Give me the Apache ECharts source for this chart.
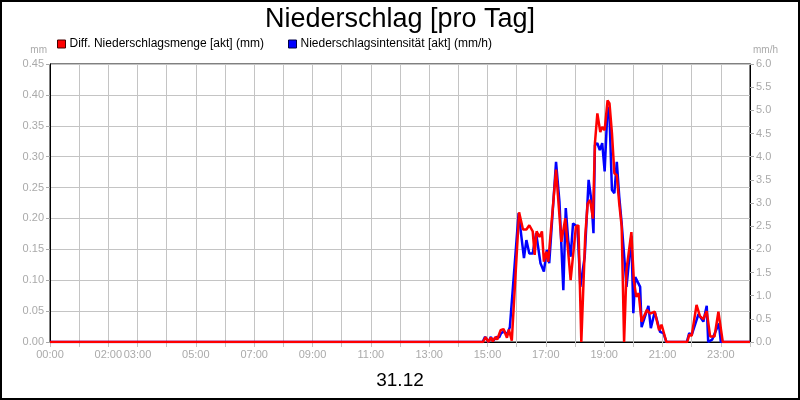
<!DOCTYPE html>
<html>
<head>
<meta charset="utf-8">
<script src="https://cdn.jsdelivr.net/npm/echarts@6/dist/echarts.min.js"></script>
<style>
html,body{margin:0;padding:0;background:#fff;}
#chart{width:800px;height:400px;}
</style>
</head>
<body>
<div id="chart"></div>
<script>
// x-axis tick labels shown
const xLabels = ['00:00','02:00','03:00','05:00','07:00','09:00','11:00','13:00','15:00','17:00','19:00','21:00','23:00'];

// Diff. Niederschlagsmenge [akt] (mm) — times in minutes since 00:00
const rainTimes = [0,891,896,902,907,911,916,920,927,933,940,944,950,965,973,980,986,993,997,1001,1007,1012,1016,1021,1025,1041,1052,1060,1071,1082,1087,1093,1101,1106,1111,1117,1121,1126,1132,1136,1141,1147,1151,1156,1161,1166,1171,1176,1181,1186,1196,1201,1206,1211,1217,1228,1234,1244,1253,1258,1268,1311,1315,1320,1330,1337,1344,1351,1358,1367,1375,1384,1440];
const rainValues = [0,0,0.008,0.0,0.007,0.001,0.008,0.004,0.019,0.021,0.007,0.02,0.002,0.21,0.182,0.182,0.189,0.179,0.141,0.179,0.17,0.179,0.13,0.146,0.13,0.279,0.162,0.2,0.1,0.187,0.189,0,0.171,0.224,0.23,0.2,0.322,0.37,0.34,0.348,0.343,0.391,0.386,0.338,0.273,0.27,0.224,0.187,0,0.117,0.178,0.1,0.073,0.079,0.033,0.052,0.046,0.049,0.019,0.028,0,0,0.012,0.01,0.06,0.042,0.037,0.05,0.009,0.009,0.049,0,0];

// Niederschlagsintensität [akt] (mm/h)
const intensityTimes = [0,890,895,902,907,911,919,924,928,935,940,946,964,975,980,986,993,1000,1004,1009,1016,1022,1027,1041,1048,1056,1061,1066,1071,1076,1085,1091,1100,1108,1114,1118,1121,1126,1131,1136,1141,1147,1151,1156,1161,1166,1171,1176,1186,1196,1200,1204,1214,1217,1231,1236,1244,1255,1262,1268,1310,1315,1320,1334,1344,1351,1354,1362,1376,1380,1440];
const intensityValues = [0,0,0.11,0,0.11,0.02,0.11,0.1,0.19,0.23,0.15,0.32,2.78,1.81,2.2,1.91,1.91,2.35,2.06,1.7,1.52,1.99,1.7,3.89,3.03,1.12,2.89,2.2,1.84,2.56,2.49,1.19,1.84,3.5,3.03,2.35,4.25,4.29,4.14,4.29,3.68,5.08,4.86,3.28,3.21,3.89,3.14,2.56,1.19,2.29,0.62,1.4,1.19,0.32,0.78,0.3,0.65,0.22,0.19,0,0,0.19,0.15,0.6,0.44,0.78,0,0.05,0.4,0,0];

const rainName = 'Diff. Niederschlagsmenge [akt] (mm)';
const intName = 'Niederschlagsintensität [akt] (mm/h)';

const FONT = "'Liberation Sans', Arial, sans-serif";
const GRAY = '#aaaaaa';
const GRID = '#c4c4c4';

const chart = echarts.init(document.getElementById('chart'), null, {renderer:'canvas'});
chart.setOption({
  animation: false,
  backgroundColor: '#fff',
  textStyle: {fontFamily: FONT},
  title: [
    {text: 'Niederschlag [pro Tag]', left: 'center', top: 1,
     textStyle: {fontSize: 27, fontWeight: 'normal', color: '#000', fontFamily: FONT}},
    {text: '31.12', left: 'center', top: 366,
     textStyle: {fontSize: 19, fontWeight: 'normal', color: '#000', fontFamily: FONT}}
  ],
  legend: {
    left: 57, top: 38, padding: 0, itemGap: 24,
    icon: 'rect', itemWidth: 8, itemHeight: 8,
    textStyle: {fontSize: 12, color: '#000', fontFamily: FONT, padding: [0,0,0,-1]},
    data: [
      {name: rainName, itemStyle: {color: '#ff0000', borderColor: '#440000', borderWidth: 1}},
      {name: intName, itemStyle: {color: '#0000ff', borderColor: '#000044', borderWidth: 1}}
    ]
  },
  graphic: [{
    type: 'rect', silent: true, z: 100,
    shape: {x: 1, y: 1, width: 798, height: 398},
    style: {fill: null, stroke: '#000', lineWidth: 2}
  }],
  grid: {left: 50, right: 50, top: 64, bottom: 58, show: true, borderColor: '#000', borderWidth: 1},
  xAxis: {
    type: 'value', min: 0, max: 1440, interval: 60,
    axisLine: {lineStyle: {color: '#000', width: 1}},
    axisTick: {show: true, length: 5, lineStyle: {color: GRID}},
    splitLine: {show: true, lineStyle: {color: GRID, width: 1}},
    axisLabel: {
      color: GRAY, fontSize: 11, fontFamily: FONT, margin: 7, hideOverlap: false,
      formatter: function (v) {
        const s = String(Math.floor(v / 60)).padStart(2, '0') + ':00';
        return xLabels.indexOf(s) >= 0 && v < 1440 ? s : '';
      }
    }
  },
  yAxis: [
    {
      type: 'value', min: 0, max: 0.45, interval: 0.05, position: 'left',
      name: 'mm', nameGap: 9,
      nameTextStyle: {color: GRAY, fontSize: 10, fontFamily: FONT, align: 'right', padding: [0, 3, 0, 0]},
      axisLine: {show: true, lineStyle: {color: '#000'}},
      axisTick: {show: true, length: 4, lineStyle: {color: GRAY}},
      splitLine: {show: true, lineStyle: {color: GRID, width: 1}},
      axisLabel: {color: GRAY, fontSize: 11, fontFamily: FONT, margin: 6,
        formatter: function (v) { return v.toFixed(2); }}
    },
    {
      type: 'value', min: 0, max: 6, interval: 0.5, position: 'right',
      name: 'mm/h', nameGap: 9,
      nameTextStyle: {color: GRAY, fontSize: 10, fontFamily: FONT, align: 'left', padding: [0, 0, 0, 3]},
      axisLine: {show: true, lineStyle: {color: '#000'}},
      axisTick: {show: true, length: 4, lineStyle: {color: GRAY}},
      splitLine: {show: false},
      axisLabel: {color: GRAY, fontSize: 11, fontFamily: FONT, margin: 6,
        formatter: function (v) { return v.toFixed(1); }}
    }
  ],
  series: [
    {
      name: intName, type: 'line', yAxisIndex: 1, showSymbol: false, symbol: 'none',
      itemStyle: {color: '#0000ff'},
      lineStyle: {color: '#0000ff', width: 2.5},
      data: intensityTimes.map((t, i) => [t, intensityValues[i]]),
      z: 2
    },
    {
      name: rainName, type: 'line', yAxisIndex: 0, showSymbol: false, symbol: 'none',
      itemStyle: {color: '#ff0000'},
      lineStyle: {color: '#ff0000', width: 2.5},
      data: rainTimes.map((t, i) => [t, rainValues[i]]),
      z: 3
    }
  ]
});
</script>
</body>
</html>
